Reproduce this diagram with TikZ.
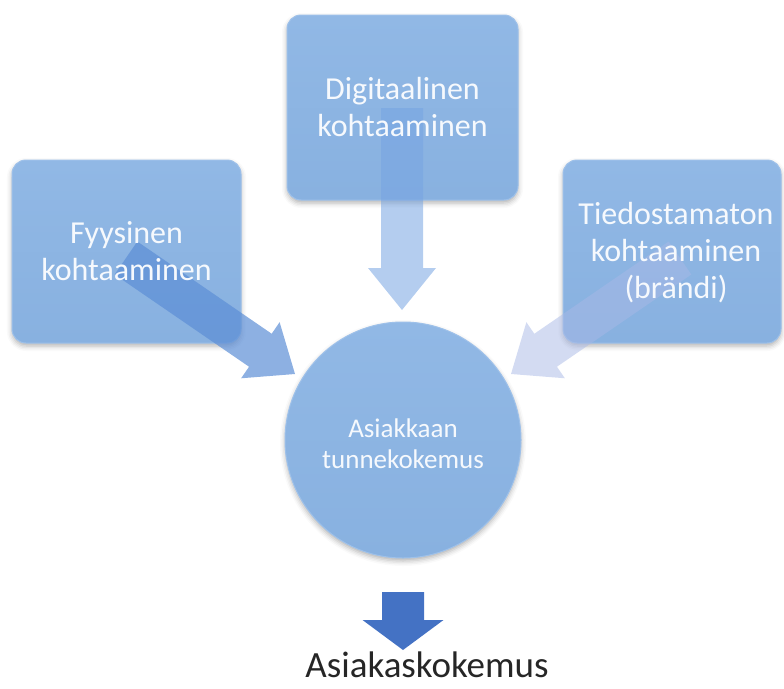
\documentclass[tikz,border=0pt]{standalone}
\usepackage{fontspec}
\setmainfont{Carlito}
\usetikzlibrary{calc,shadows.blur}

\definecolor{boxtop}{RGB}{145,184,229}
\definecolor{boxbot}{RGB}{136,177,224}
\definecolor{boxedge}{RGB}{158,193,234}
\definecolor{leftarrow}{RGB}{92,142,214}
\definecolor{toparrow}{RGB}{118,164,226}
\definecolor{rightarrow}{RGB}{168,184,230}
\definecolor{outarrow}{RGB}{68,114,196}
\definecolor{captiongray}{RGB}{38,38,38}
\definecolor{labelwhite}{RGB}{246,249,253}

% Filled block arrow: tail, tip, half shaft width, half head width, head length, style
\newcommand\blockarrow[6]{%
  \coordinate (ba-h) at ($(#2)!#5!(#1)$);
  \fill[#6] ($(#1)!#3!90:(#2)$) -- ($(ba-h)!#3!90:(#2)$) -- ($(ba-h)!#4!90:(#2)$)
    -- (#2) -- ($(ba-h)!#4!-90:(#2)$) -- ($(ba-h)!#3!-90:(#2)$)
    -- ($(#1)!#3!-90:(#2)$) -- cycle;}

\tikzset{
  panel/.style={rectangle, rounded corners=14pt, top color=boxtop, bottom color=boxbot,
    draw=boxedge, line width=1pt,
    blur shadow={shadow xshift=0pt, shadow yshift=-3pt, shadow blur radius=5pt, shadow opacity=30}},
  hub/.style={circle, top color=boxtop, bottom color=boxbot, draw=boxedge, line width=1pt,
    minimum size=236pt, inner sep=0pt,
    blur shadow={shadow xshift=0pt, shadow yshift=-3pt, shadow blur radius=5pt, shadow opacity=30}},
  paneltext/.style={text=labelwhite, align=center, inner sep=0pt,
    font=\fontsize{32}{37}\selectfont},
  hubtext/.style={text=labelwhite, align=center, inner sep=0pt,
    font=\fontsize{27}{31}\selectfont},
  caption/.style={text=captiongray, anchor=base, inner sep=0pt,
    font=\fontsize{37}{40}\selectfont}
}

\begin{document}
\begin{tikzpicture}[x=1pt,y=-1pt]
  \useasboundingbox (0,0) rectangle (784,688);

  % panels and hub
  \node[panel, minimum width=229pt, minimum height=183pt] (fyys) at (126.5,251.5) {};
  \node[panel, minimum width=231pt, minimum height=185pt] (digi) at (402.5,107.5) {};
  \node[panel, minimum width=218pt, minimum height=183pt] (tied) at (672,251.5) {};
  \node[hub] (hub) at (403,440) {};

  % arrow end points
  \coordinate (fyys-tail) at (126,258);
  \coordinate (fyys-tip)  at (295,374);
  \coordinate (digi-tail) at (402,108);
  \coordinate (digi-tip)  at (402,310);
  \coordinate (tied-tail) at (680,258);
  \coordinate (tied-tip)  at (511,374);
  \coordinate (out-tail)  at (403,592);
  \coordinate (out-tip)   at (403,650);

  % translucent arrows into the hub
  \blockarrow{fyys-tail}{fyys-tip}{20pt}{34pt}{42pt}{leftarrow, opacity=0.7}
  \blockarrow{digi-tail}{digi-tip}{21pt}{34pt}{42pt}{toparrow, opacity=0.55}
  \blockarrow{tied-tail}{tied-tip}{20pt}{34pt}{42pt}{rightarrow, opacity=0.5}

  % outcome arrow
  \blockarrow{out-tail}{out-tip}{21pt}{40.5pt}{30pt}{outarrow}

  % labels
  \node[paneltext] (fyys-label) at (fyys.center) {Fyysinen\\kohtaaminen};
  \node[paneltext] (digi-label) at (digi.center) {Digitaalinen\\kohtaaminen};
  \node[paneltext] (tied-label) at (676,253) {Tiedostamaton\\kohtaaminen\\(brändi)};
  \node[hubtext] (hub-label) at (403,444) {Asiakkaan\\tunnekokemus};
  \node[caption] (result) at (427,677) {Asiakaskokemus};
\end{tikzpicture}
\end{document}
